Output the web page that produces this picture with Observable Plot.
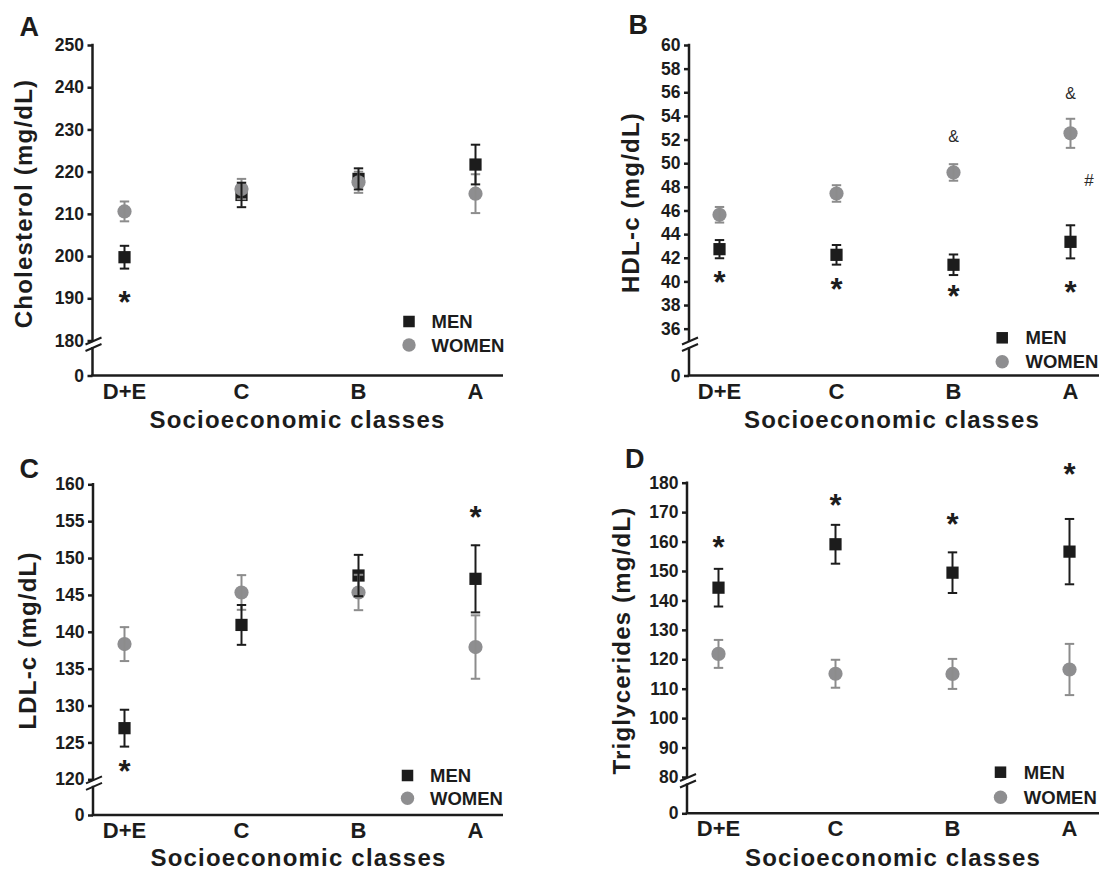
<!DOCTYPE html>
<html>
<head>
<meta charset="utf-8">
<script src="https://cdn.jsdelivr.net/npm/d3@7"></script>
<script src="https://cdn.jsdelivr.net/npm/@observablehq/plot@0.6"></script>
<style>
  body { margin: 0; background: #fff; }
  #fig { position: relative; width: 1099px; height: 870px; overflow: hidden; background: #fff; }
  .panel { position: absolute; }
</style>
</head>
<body>
<div id="fig"></div>
<script>
// ---------- data ----------
const classes = ["D+E", "C", "B", "A"];
const sexLabels = ["MEN", "WOMEN"];
const xTitle = "Socioeconomic classes";

// Panel A: total cholesterol (mean, SEM)
const cholMen = [199.85, 214.6, 218.4, 221.8];
const cholMenErr = [2.7, 2.9, 2.5, 4.7];
const cholWomen = [210.7, 216.0, 217.6, 214.9];
const cholWomenErr = [2.35, 2.4, 2.5, 4.6];
const cholTicks = [0, 180, 190, 200, 210, 220, 230, 240, 250];
const cholStars = [{cls: "D+E", v: 190.8}];

// Panel B: HDL-c
const hdlMen = [42.77, 42.29, 41.45, 43.39];
const hdlMenErr = [0.77, 0.83, 0.87, 1.4];
const hdlWomen = [45.68, 47.48, 49.26, 52.57];
const hdlWomenErr = [0.66, 0.7, 0.7, 1.23];
const hdlTicks = [0, 36, 38, 40, 42, 44, 46, 48, 50, 52, 54, 56, 58, 60];
const hdlStars = [
  {cls: "D+E", v: 40.5}, {cls: "C", v: 39.94}, {cls: "B", v: 39.38}, {cls: "A", v: 39.66}
];
const hdlAmp = [{cls: "B", v: 52.23}, {cls: "A", v: 55.87}];
const hdlHash = [{cls: "A", v: 48.56}];

// Panel C: LDL-c
const ldlMen = [127.0, 141.0, 147.7, 147.25];
const ldlMenErr = [2.5, 2.7, 2.8, 4.55];
const ldlWomen = [138.4, 145.4, 145.4, 138.0];
const ldlWomenErr = [2.3, 2.35, 2.4, 4.3];
const ldlTicks = [0, 120, 125, 130, 135, 140, 145, 150, 155, 160];
const ldlStars = [{cls: "D+E", v: 122.0}, {cls: "A", v: 156.5}];

// Panel D: triglycerides
const tgMen = [144.5, 159.25, 149.6, 156.75];
const tgMenErr = [6.4, 6.6, 6.9, 11.1];
const tgWomen = [122.0, 115.25, 115.2, 116.7];
const tgWomenErr = [4.75, 4.75, 5.1, 8.7];
const tgTicks = [0, 80, 90, 100, 110, 120, 130, 140, 150, 160, 170, 180];
const tgStars = [
  {cls: "D+E", v: 160.5}, {cls: "C", v: 174.7}, {cls: "B", v: 168.4}, {cls: "A", v: 185.4}
];

// ---------- style ----------
const INK = "#1c1c1c";
const GRAY = "#8e8e90";
const GRAY_BAR = "#8c8c8c";
const FONT = "'Liberation Sans', Arial, Helvetica, sans-serif";

// horizontal error-bar cap symbol
const capSymbol = {
  draw(context) {
    context.moveTo(-4.7, 0);
    context.lineTo(4.7, 0);
  }
};

function rows(vals, errs) {
  return classes.map((c, i) => ({cls: c, v: vals[i], lo: vals[i] - errs[i], hi: vals[i] + errs[i]}));
}

// axis lines with a "//" break, drawn through the plot's own y scale
function axisFrame(brk, top) {
  return function (...args) {
    const scales = args.length >= 4 ? args[1] : args[0];
    const dims = args.length >= 4 ? args[3] : args[1];
    const y = scales.y;
    const x0 = dims.marginLeft, x1 = dims.width - dims.marginRight;
    const yb = y(brk), y0 = y(0), yt = y(top);
    const g = d3.create("svg:g").attr("fill", "none").attr("stroke", INK).attr("stroke-width", 2.5);
    g.append("line").attr("x1", x0).attr("x2", x0).attr("y1", yt - 1.25).attr("y2", yb + 1);
    g.append("line").attr("x1", x0).attr("x2", x0).attr("y1", yb + 6.5).attr("y2", y0);
    g.append("line").attr("x1", x0 - 1.25).attr("x2", x1).attr("y1", y0).attr("y2", y0);
    g.append("line").attr("x1", x0 - 7).attr("y1", yb + 4).attr("x2", x0 + 9).attr("y2", yb - 3).attr("stroke-width", 2);
    g.append("line").attr("x1", x0 - 7).attr("y1", yb + 10.5).attr("x2", x0 + 9).attr("y2", yb + 3.5).attr("stroke-width", 2);
    return g.node();
  };
}

function errorMarks(data, color) {
  return [
    Plot.ruleX(data, {x: "cls", y1: "lo", y2: "hi", stroke: color, strokeWidth: 2}),
    Plot.dot(data, {x: "cls", y: "hi", symbol: capSymbol, stroke: color, fill: "none", strokeWidth: 2}),
    Plot.dot(data, {x: "cls", y: "lo", symbol: capSymbol, stroke: color, fill: "none", strokeWidth: 2})
  ];
}

function panel(cfg) {
  const L = cfg.layout;
  const men = rows(cfg.men, cfg.menErr);
  const women = rows(cfg.women, cfg.womenErr);
  const at = (px, py) => ({frameAnchor: "top-left", dx: px - L.ml, dy: py - L.mt});
  const top = cfg.ticks[cfg.ticks.length - 1];
  const marks = [
    axisFrame(cfg.brk, top),
    Plot.axisY({ticks: cfg.ticks, tickSize: 5, tickPadding: 4, strokeWidth: 2.5,
      fontSize: 17.5, fontWeight: "bold", label: null}),
    Plot.axisX({tickSize: 0, tickPadding: 7, fontSize: 22, fontWeight: "bold", label: null}),
    Plot.dot(men, {x: "cls", y: "v", symbol: "square", r: 6.9, fill: INK}),
    Plot.dot(women, {x: "cls", y: "v", symbol: "circle", r: 7.1, fill: GRAY}),
    ...errorMarks(women, GRAY_BAR),
    ...errorMarks(men, INK),
    Plot.text(cfg.stars, {x: "cls", y: "v", text: () => "*", fontSize: 31, fontWeight: "bold",
      fill: INK, lineAnchor: "middle", dy: 7.5}),
    // panel letter
    Plot.text([cfg.letter], {...at(L.letter[0], L.letter[1]), textAnchor: "start", lineAnchor: "bottom",
      fontSize: 27, fontWeight: "bold", fill: INK}),
    // axis titles
    Plot.text([cfg.yTitle], {...at(L.yt[0], L.yt[1]), rotate: -90, textAnchor: "middle", lineAnchor: "middle",
      fontSize: 24, fontWeight: "bold", fill: INK}),
    Plot.text([xTitle], {...at(L.xt[0], L.xt[1]), textAnchor: "middle", lineAnchor: "bottom",
      fontSize: 24, fontWeight: "bold", fill: INK}),
    // legend
    Plot.dot([sexLabels[0]], {...at(L.leg[0], L.leg[1]), symbol: "square", r: 6.5, fill: INK}),
    Plot.dot([sexLabels[1]], {...at(L.leg[0], L.leg[2]), symbol: "circle", r: 6.7, fill: GRAY}),
    Plot.text([sexLabels[0]], {...at(L.leg[3], L.leg[1] + 6.6), textAnchor: "start", lineAnchor: "bottom",
      fontSize: 18.5, fontWeight: "bold", fill: INK}),
    Plot.text([sexLabels[1]], {...at(L.leg[3], L.leg[2] + 6.6), textAnchor: "start", lineAnchor: "bottom",
      fontSize: 18.5, fontWeight: "bold", fill: INK})
  ];
  if (cfg.amp) marks.push(Plot.text(cfg.amp, {x: "cls", y: "v", text: () => "&", fontSize: 16,
    fill: "#2a2a2a", lineAnchor: "middle"}));
  if (cfg.hash) marks.push(Plot.text(cfg.hash, {x: "cls", y: "v", text: () => "#", fontSize: 17,
    fill: "#2a2a2a", lineAnchor: "middle", dx: 18.5}));

  const svg = Plot.plot({
    width: L.w, height: 435,
    marginLeft: L.ml, marginRight: L.mr, marginTop: L.mt, marginBottom: L.mb,
    style: {fontFamily: FONT, color: INK, background: "transparent", overflow: "visible"},
    x: {type: "point", domain: classes, range: L.xr, padding: 0},
    y: {type: "linear", domain: cfg.ydomain, range: L.yr},
    marks
  });
  svg.querySelectorAll("text").forEach(t => {
    if (t.textContent === cfg.yTitle || t.textContent === xTitle) t.style.letterSpacing = "1.2px";
  });
  const holder = document.createElement("div");
  holder.className = "panel";
  holder.style.left = L.left + "px";
  holder.style.top = L.top + "px";
  holder.appendChild(svg);
  document.getElementById("fig").appendChild(holder);
}

panel({
  letter: "A", yTitle: "Cholesterol (mg/dL)",
  men: cholMen, menErr: cholMenErr, women: cholWomen, womenErr: cholWomenErr,
  ticks: cholTicks, ydomain: [0, 180, 250], brk: 180, stars: cholStars,
  layout: {left: 0, top: 0, w: 549, ml: 92.5, mr: 46, mt: 45, mb: 59.5,
    xr: [123.5, 475], yr: [375.5, 340.5, 45],
    letter: [19, 35.5], yt: [24, 203], xt: [297, 427.5], leg: [408.5, 321, 344.5, 431]}
});

panel({
  letter: "B", yTitle: "HDL-c (mg/dL)",
  men: hdlMen, menErr: hdlMenErr, women: hdlWomen, womenErr: hdlWomenErr,
  ticks: hdlTicks, ydomain: [0, 35, 60], brk: 35, stars: hdlStars, amp: hdlAmp, hash: hdlHash,
  layout: {left: 549, top: 0, w: 550, ml: 140, mr: 0, mt: 45, mb: 59.5,
    xr: [169, 522], yr: [375.5, 340.5, 45],
    letter: [79, 33.5], yt: [81.5, 202], xt: [342.5, 427.5], leg: [452.7, 337.3, 361.3, 476]}
});

panel({
  letter: "C", yTitle: "LDL-c (mg/dL)",
  men: ldlMen, menErr: ldlMenErr, women: ldlWomen, womenErr: ldlWomenErr,
  ticks: ldlTicks, ydomain: [0, 120, 160], brk: 120, stars: ldlStars,
  layout: {left: 0, top: 435, w: 549, ml: 93, mr: 46, mt: 49.3, mb: 55,
    xr: [123.5, 475], yr: [380, 344.3, 49.3],
    letter: [19, 42], yt: [28, 205], xt: [298, 430], leg: [407, 340, 362.7, 429.5]}
});

panel({
  letter: "D", yTitle: "Triglycerides (mg/dL)",
  men: tgMen, menErr: tgMenErr, women: tgWomen, womenErr: tgWomenErr,
  ticks: tgTicks, ydomain: [0, 80, 180], brk: 80, stars: tgStars,
  layout: {left: 549, top: 435, w: 550, ml: 138, mr: 0, mt: 47.7, mb: 56.7,
    xr: [168, 520], yr: [378.3, 342, 47.7],
    letter: [75.5, 32], yt: [73, 205], xt: [343.5, 430], leg: [451, 336.7, 361.7, 474.3]}
});
</script>
</body>
</html>
